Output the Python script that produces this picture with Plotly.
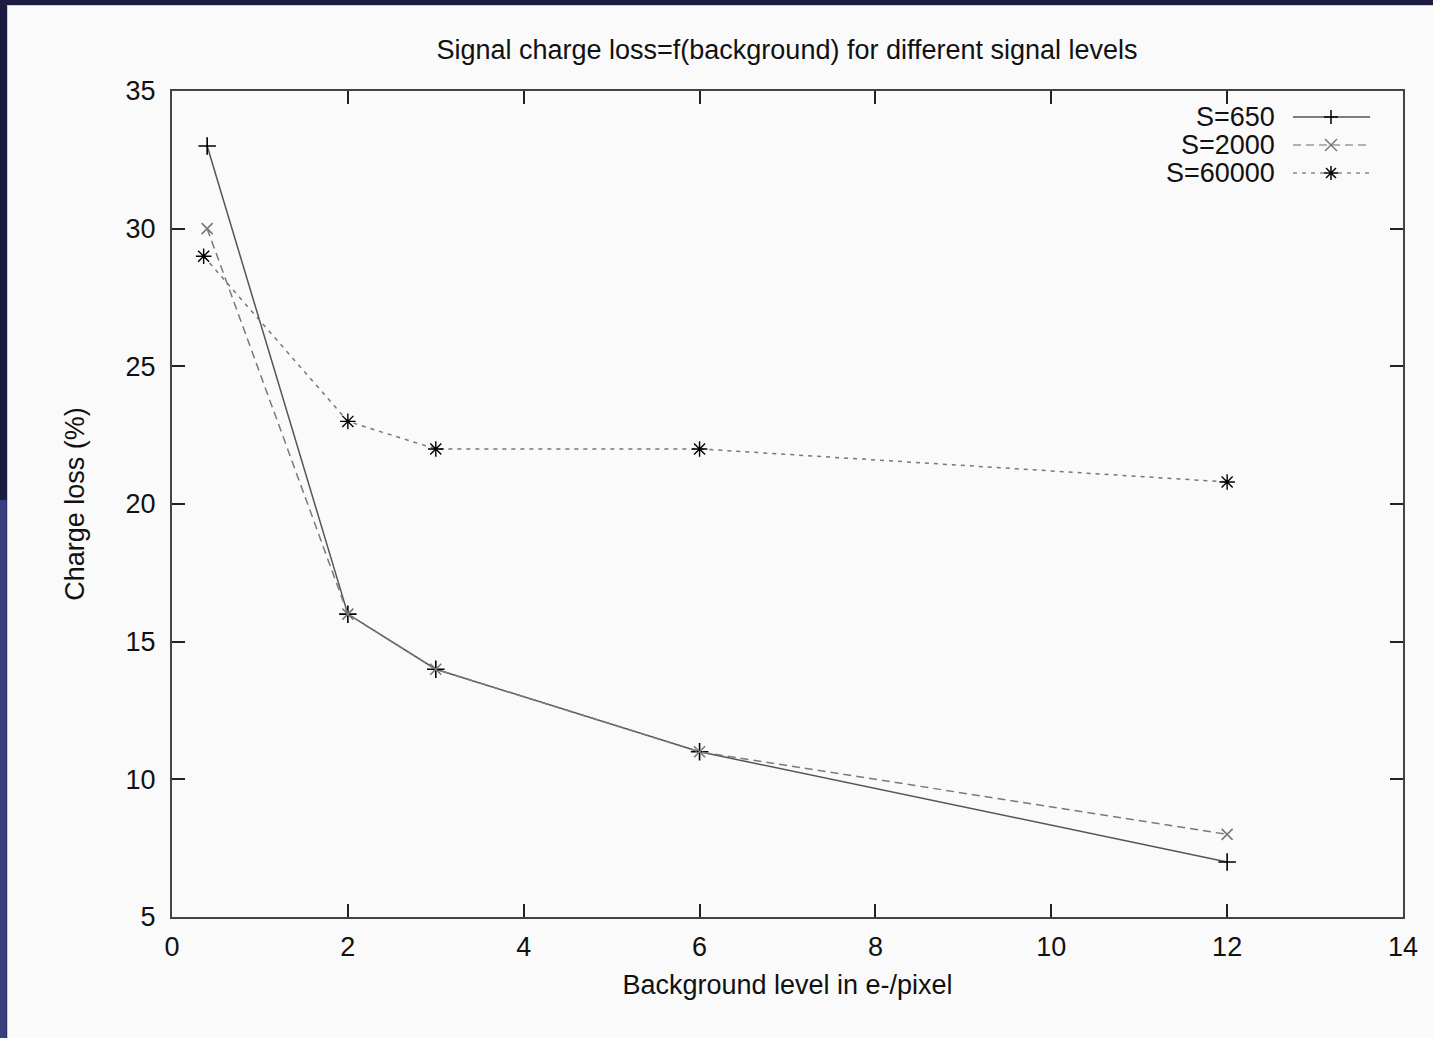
import plotly.graph_objects as go

# ---------------- data ----------------
x_650 = [0.4, 2, 3, 6, 12]
y_650 = [33, 16, 14, 11, 7]
x_2000 = [0.4, 2, 3, 6, 12]
y_2000 = [30, 16, 14, 11, 8]
x_60000 = [0.36, 2, 3, 6, 12]
y_60000 = [29, 23, 22, 22, 20.8]
series_names = ["S=650", "S=2000", "S=60000"]
x_ticks = [0, 2, 4, 6, 8, 10, 12, 14]
y_ticks = [5, 10, 15, 20, 25, 30, 35]

W, H = 1433, 1038
L, R, T, B = 172, 1403, 91, 917  # plot area in pixels


def px(x):
    return (x - L) / (R - L)


def py(y):
    return (B - y) / (B - T)


FONT = "Liberation Sans, Arial, Helvetica, sans-serif"
TXT = "#111111"
FS = 27

fig = go.Figure()

fig.add_trace(go.Scatter(
    x=x_650, y=y_650, name=series_names[0], mode="lines+markers",
    line=dict(color="#555555", width=1.5),
    marker=dict(symbol="cross-thin-open", size=12.5, color="#000000",
                line=dict(color="#000000", width=1.6)),
))
fig.add_trace(go.Scatter(
    x=x_2000, y=y_2000, name=series_names[1], mode="lines+markers",
    line=dict(color="#7a7a7a", width=1.5, dash="8px,5px"),
    marker=dict(symbol="x-thin-open", size=11, color="#777777",
                line=dict(color="#777777", width=1.6)),
))
fig.add_trace(go.Scatter(
    x=x_60000, y=y_60000, name=series_names[2], mode="lines+markers",
    line=dict(color="#777777", width=1.5, dash="4px,5px"),
    marker=dict(symbol="asterisk-open", size=13, color="#000000",
                line=dict(color="#000000", width=1.4)),
))

shapes = []
# outer frame
shapes.append(dict(type="rect", xref="paper", yref="paper", layer="below",
                   x0=px(7), x1=px(W + 20), y0=py(H + 20), y1=py(5),
                   fillcolor="#f0c98a", line=dict(width=0)))
shapes.append(dict(type="rect", xref="paper", yref="paper", layer="below",
                   x0=px(8), x1=px(W + 20), y0=py(H + 20), y1=py(6),
                   fillcolor="#fafafa", line=dict(width=0)))
# left strip tint
shapes.append(dict(type="rect", xref="paper", yref="paper", layer="below",
                   x0=px(-5), x1=px(6.6), y0=py(H + 20), y1=py(500),
                   fillcolor="#3a3f80", line=dict(width=0)))

# custom gnuplot-style legend (text, then sample)
leg_rows = [117, 145, 173]
leg_styles = [
    dict(color="#555555", dash="solid", mcolor="#000000", glyph="plus"),
    dict(color="#9a9a9a", dash="8px,5px", mcolor="#777777", glyph="x"),
    dict(color="#8a8a8a", dash="4px,5px", mcolor="#000000", glyph="star"),
]
annotations = []
for name, yy, st in zip(series_names, leg_rows, leg_styles):
    annotations.append(dict(text=name, xref="paper", yref="paper", x=px(1277), y=py(yy),
                            xanchor="right", yanchor="middle", showarrow=False,
                            font=dict(family=FONT, size=FS, color=TXT)))
    shapes.append(dict(type="line", xref="paper", yref="paper",
                       x0=px(1293), x1=px(1370), y0=py(yy), y1=py(yy),
                       line=dict(color=st["color"], width=1.5, dash=st["dash"])))
    cx, cy, h = 1331, yy, 7
    segs = []
    if st["glyph"] in ("plus", "star"):
        segs += [((cx - h, cy), (cx + h, cy)), ((cx, cy - h), (cx, cy + h))]
    if st["glyph"] in ("x", "star"):
        d = 6 if st["glyph"] == "x" else 5
        segs += [((cx - d, cy - d), (cx + d, cy + d)), ((cx - d, cy + d), (cx + d, cy - d))]
    for (a, b) in segs:
        shapes.append(dict(type="line", xref="paper", yref="paper",
                           x0=px(a[0]), y0=py(a[1]), x1=px(b[0]), y1=py(b[1]),
                           line=dict(color=st["mcolor"], width=1.5)))

axis_common = dict(
    showgrid=False, zeroline=False, showline=True, linecolor="#444444", linewidth=2,
    mirror="allticks", ticks="inside", ticklen=13, tickwidth=1.5, tickcolor="#222222",
    tickfont=dict(family=FONT, size=FS, color=TXT),
)

fig.update_layout(
    width=W, height=H,
    margin=dict(l=L, r=W - R, t=T, b=H - B, autoexpand=False),
    paper_bgcolor="#1b1c40",
    plot_bgcolor="#fafafa",
    showlegend=False,
    title=dict(text="Signal charge loss=f(background) for different signal levels",
               xref="container", x=787 / W, xanchor="center",
               yref="container", y=1 - 50 / H, yanchor="middle",
               font=dict(family=FONT, size=FS, color=TXT)),
    xaxis=dict(range=[0, 14], tickvals=x_ticks, ticktext=[str(v) for v in x_ticks],
               ticklabelstandoff=5,
               title=dict(text="Background level in e-/pixel", standoff=14,
                          font=dict(family=FONT, size=FS, color=TXT)),
               **axis_common),
    yaxis=dict(range=[5, 35], tickvals=y_ticks, ticktext=[str(v) for v in y_ticks],
               ticklabelstandoff=9,
               title=dict(text="Charge loss (%)", standoff=33,
                          font=dict(family=FONT, size=FS, color=TXT)),
               **axis_common),
    shapes=shapes,
    annotations=annotations,
)

fig.write_html(
    "out.html",
    config={"displayModeBar": False},
    post_script="document.body.style.margin='0';document.body.style.overflow='hidden';",
)
